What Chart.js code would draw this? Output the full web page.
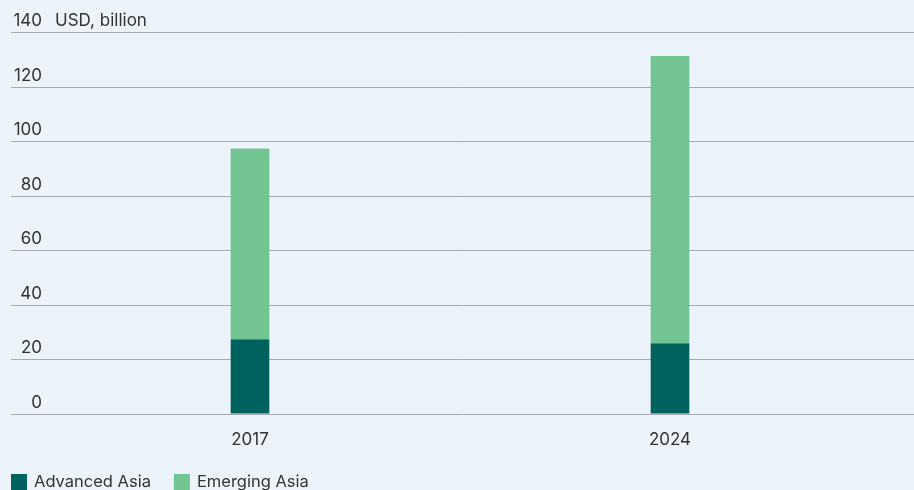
<!DOCTYPE html>
<html>
<head>
<meta charset="utf-8">
<script src="https://cdn.jsdelivr.net/npm/chart.js@4"></script>
<style>
  html, body { margin: 0; padding: 0; background: #EDF3FB; overflow: hidden; }
  #wrap { position: relative; width: 914px; height: 490px; }
</style>
</head>
<body>
<div id="wrap"><canvas id="asia-chart"></canvas></div>
<script>
const years = ['2017', '2024'];
const advancedAsia = [27.1, 25.6];
const emergingAsia = [70.0, 105.5];
const yTicks = [0, 20, 40, 60, 80, 100, 120, 140];
const unitLabel = 'USD, billion';

const FONT = 'Inter, "Noto Sans", sans-serif';
const TEXT = '#333333';
const GRID = '#A6A9B1';

// horizontal grid lines and value labels run across the full width
const gridPlugin = {
  id: 'fullGrid',
  beforeDatasetsDraw(chart) {
    const ctx = chart.ctx;
    const y = chart.scales.y;
    ctx.save();
    ctx.strokeStyle = GRID;
    ctx.lineWidth = 1;
    ctx.font = '17px ' + FONT;
    ctx.fillStyle = TEXT;
    ctx.textBaseline = 'alphabetic';
    yTicks.forEach(v => {
      const py = Math.round(y.getPixelForValue(v)) + 0.5;
      ctx.beginPath();
      ctx.moveTo(11, py);
      ctx.lineTo(chart.width, py);
      ctx.stroke();
      ctx.textAlign = 'right';
      ctx.fillText(String(v), 42, py - 7);
      if (v === yTicks[yTicks.length - 1]) {
        ctx.textAlign = 'left';
        ctx.fillText(unitLabel, 55, py - 7);
      }
    });
    ctx.restore();
  }
};

// legend pinned to the bottom-left corner
const legendPlugin = {
  id: 'cornerLegend',
  afterDraw(chart) {
    const ctx = chart.ctx;
    ctx.save();
    ctx.font = '16.5px ' + FONT;
    ctx.textAlign = 'left';
    ctx.textBaseline = 'alphabetic';
    let x = 11;
    const top = 474;
    chart.data.datasets.forEach(ds => {
      ctx.fillStyle = ds.backgroundColor;
      ctx.fillRect(x, top, 16, 16);
      ctx.fillStyle = TEXT;
      ctx.fillText(ds.label, x + 23, top + 13);
      x += 23 + ctx.measureText(ds.label).width + 23;
    });
    ctx.restore();
  }
};

new Chart(document.getElementById('asia-chart'), {
  type: 'bar',
  data: {
    labels: years,
    datasets: [
      { label: 'Advanced Asia', data: advancedAsia, backgroundColor: '#00625F', barThickness: 38 },
      { label: 'Emerging Asia', data: emergingAsia, backgroundColor: '#72C493', barThickness: 38 }
    ]
  },
  options: {
    responsive: true,
    maintainAspectRatio: false,
    animation: false,
    layout: { padding: { top: 32, left: 40, right: 34, bottom: 32 } },
    scales: {
      x: {
        stacked: true,
        grid: { display: false },
        border: { display: false },
        ticks: { color: TEXT, font: { family: FONT, size: 17 }, padding: 8 }
      },
      y: {
        stacked: true,
        display: false,
        min: 0,
        max: 140
      }
    },
    plugins: {
      legend: { display: false },
      tooltip: { enabled: false }
    }
  },
  plugins: [gridPlugin, legendPlugin]
});
</script>
</body>
</html>
